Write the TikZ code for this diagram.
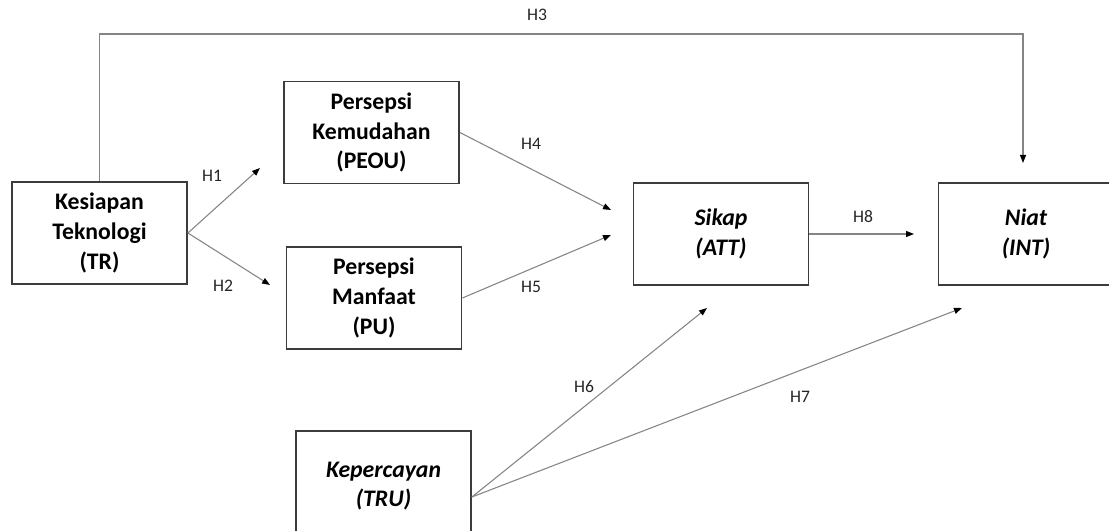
\documentclass[tikz,border=0pt]{standalone}
\usepackage{fontspec}
\setmainfont{Carlito}
\usepackage{tikz}
\usetikzlibrary{arrows.meta, positioning, calc}
\usepackage{xcolor}
\definecolor{linegray}{HTML}{858585}
\definecolor{boxgray}{HTML}{3C3C3C}

\begin{document}
\begin{tikzpicture}[x=0.75pt, y=0.75pt,
    varbox/.style={draw=boxgray, fill=white, line width=1.1pt, minimum width=131.5pt, minimum height=76.5pt, inner sep=2pt, align=center, font=\fontsize{17.8}{22.2}\selectfont\bfseries},
    link/.style={draw=linegray, line width=0.8pt, -{Triangle[length=6pt, width=4.5pt, color=black]}},
    hlabel/.style={font=\fontsize{13.2}{16}\selectfont, text=black!85}]
                \clip (0,0) rectangle (1109,531);
                \fill[white] (0,0) rectangle (1109,531);

                \node[varbox] (tr) at (99.5,298) {Kesiapan\\Teknologi\\(TR)};
                \node[varbox] (peou) at (371.5,398.5) {Persepsi\\Kemudahan\\(PEOU)};
                \node[varbox] (pu) at (374,233) {Persepsi\\Manfaat\\(PU)};
                \node[varbox] (att) at (721,297) {\itshape Sikap\\\itshape (ATT)};
                \node[varbox] (int) at (1026,297) {\itshape Niat\\\itshape (INT)};
                \node[varbox, minimum height=82.5pt] (tru) at (383.5,45) {\itshape Kepercayan\\\itshape (TRU)};

                \coordinate (h1end) at (260,363);
                \coordinate (h2end) at (270,246);
                \coordinate (h3left) at (99.5,497);
                \coordinate (h3right) at (1023,497);
                \coordinate (h3end) at (1023,368);
                \coordinate (h4end) at (611,321);
                \coordinate (h5end) at (611,296);
                \coordinate (h6end) at (707,223);
                \coordinate (h7end) at (962,223);
                \coordinate (h8end) at (914,297);
                \coordinate (trusrc) at ($(tru.east)+(0,-11)$);

                \draw[link] (tr.east) -- (h1end);
                \draw[link] (tr.east) -- (h2end);
                \draw[link] (tr.north) -- (h3left) -- (h3right) -- (h3end);
                \draw[link] (peou.east) -- (h4end);
                \draw[link] (pu.east) -- (h5end);
                \draw[link] (trusrc) -- (h6end);
                \draw[link] (trusrc) -- (h7end);
                \draw[link] (att.east) -- (h8end);

                \node[hlabel] (lh1) at (212,355) {H1};
                \node[hlabel] (lh2) at (223,245) {H2};
                \node[hlabel] (lh3) at (537,516) {H3};
                \node[hlabel] (lh4) at (531,387) {H4};
                \node[hlabel] (lh5) at (531,244) {H5};
                \node[hlabel] (lh6) at (584,144) {H6};
                \node[hlabel] (lh7) at (800,134) {H7};
                \node[hlabel] (lh8) at (863,314) {H8};
            \end{tikzpicture}
\end{document}
